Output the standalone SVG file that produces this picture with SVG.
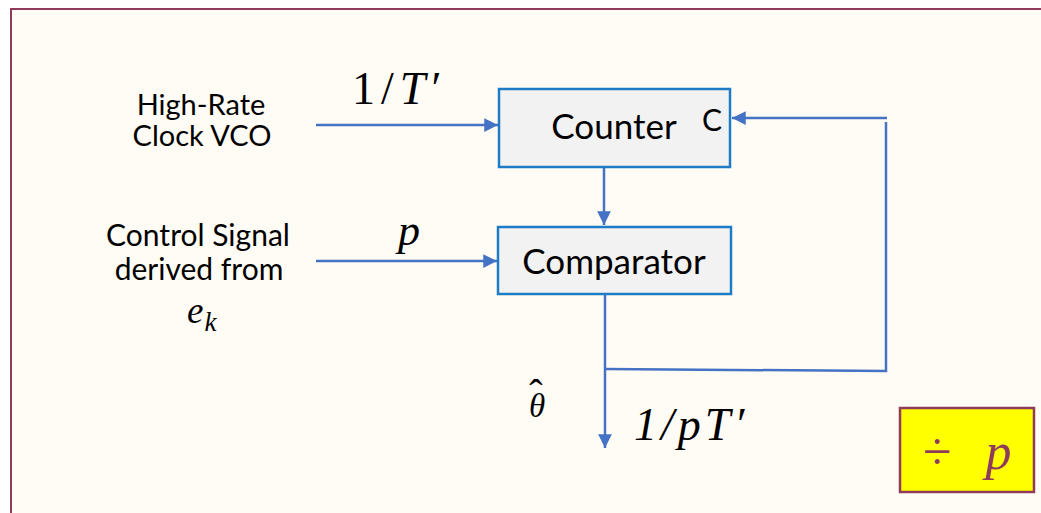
<svg xmlns="http://www.w3.org/2000/svg" width="1041" height="513" viewBox="0 0 1041 513">
<style>
.lbl{font-family:"Lato","Open Sans","Liberation Sans",sans-serif;fill:#000;text-anchor:middle}
.math{font-family:"Liberation Serif","DejaVu Serif",serif;font-style:italic;fill:#000}
.box{fill:#F2F2F2;stroke:#1E7CC6;stroke-width:2.5}
.wire{fill:none;stroke:#4472C4;stroke-width:2.5}
</style>
<defs>
<marker id="a2" viewBox="0 0 10 10" refX="10" refY="5" markerWidth="5.5" markerHeight="5.5" orient="auto">
<path d="M0,0 L10,5 L0,10 z" fill="#4472C4"/>
</marker>
</defs>
<rect x="0" y="0" width="1041" height="513" fill="#FFFFFF"/>
<rect x="11" y="9" width="1040" height="520" fill="#FFFCF5" stroke="#8E3B5C" stroke-width="2"/>
<g id="connectors">
<line class="wire" x1="316" y1="125" x2="498" y2="125" marker-end="url(#a2)"/>
<line class="wire" x1="316" y1="261" x2="497" y2="261" marker-end="url(#a2)"/>
<line class="wire" x1="604" y1="168" x2="604" y2="225" marker-end="url(#a2)"/>
<line class="wire" x1="605" y1="295" x2="605" y2="448" marker-end="url(#a2)"/>
<polyline class="wire" points="605,369 886,371 886,122"/>
<line class="wire" x1="887" y1="118" x2="732" y2="118" marker-end="url(#a2)"/>
</g>
<g id="clock-label">
<text class="lbl" style="font-size:29px"><tspan x="201" y="115">High-Rate</tspan><tspan x="202" y="146">Clock VCO</tspan></text>
</g>
<g id="control-label">
<text class="lbl" style="font-size:30px"><tspan x="198" y="246">Control Signal</tspan><tspan x="199" y="280">derived from</tspan></text>
<text class="math" x="187" y="323" style="font-size:37px">e<tspan style="font-size:27px" dx="1" dy="8">k</tspan></text>
</g>
<g id="counter">
<rect class="box" x="499" y="89" width="231" height="78"/>
<text class="lbl" x="614" y="139" style="font-size:35px">Counter</text>
<text class="lbl" x="712" y="131" style="font-size:30px">C</text>
</g>
<g id="comparator">
<rect class="box" x="498" y="227" width="233" height="67"/>
<text class="lbl" x="614" y="274" style="font-size:35px">Comparator</text>
</g>
<g id="math-labels">
<text class="math" x="352" y="104" style="font-size:46px;font-style:normal;letter-spacing:6px">1/<tspan style="font-style:italic">T</tspan>′</text>
<text class="math" x="398" y="245" style="font-size:44px">p</text>
<text class="math" x="529" y="417" style="font-size:33px">θ<tspan style="font-style:normal;font-size:40px" dx="-16" dy="-10">ˆ</tspan></text>
<text class="math" x="634" y="440" style="font-size:46px;letter-spacing:4px">1/pT′</text>
</g>
<g id="divide-p">
<rect x="900" y="408" width="134" height="84" fill="#FFFF00" stroke="#8E3B5C" stroke-width="2.5"/>
<text x="923" y="469" font-family="Liberation Serif,DejaVu Serif,serif" font-size="52" fill="#8E3B5C">÷<tspan font-style="italic" dx="34">p</tspan></text>
</g>
</svg>
